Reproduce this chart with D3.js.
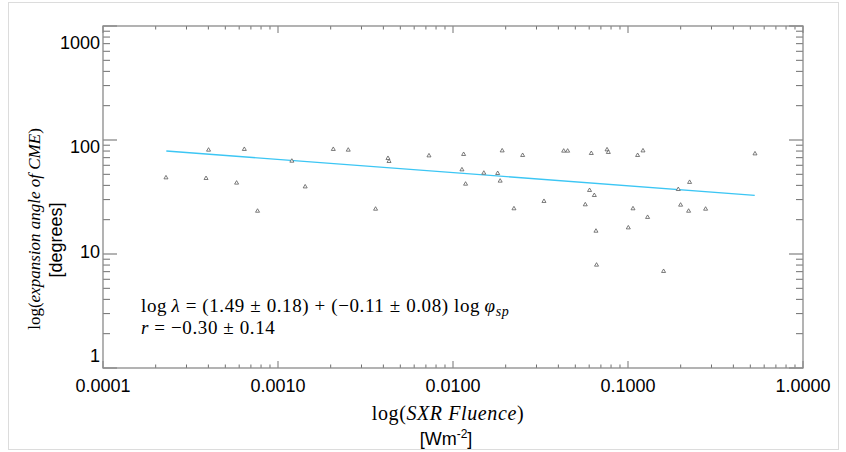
<!DOCTYPE html>
<html>
<head>
<meta charset="utf-8">
<title>Expansion angle vs SXR fluence</title>
<script src="https://cdn.jsdelivr.net/npm/d3@7"></script>
<style>
  body { margin: 0; background: #fff; }
  .tick-label { font: 18px "Liberation Sans", Arial, sans-serif; fill: #000; }
  .math { font-family: "Liberation Serif", "DejaVu Serif", serif; fill: #000; }
  .unit { font: 18px "Liberation Sans", Arial, sans-serif; fill: #000; }
</style>
</head>
<body>
<svg id="chart" width="846" height="452"></svg>
<script>
// SXR fluence [W m^-2] and CME expansion angle [deg]
var fluence = [2.29e-4, 3.88e-4, 4.01e-4, 5.80e-4, 6.42e-4, 7.64e-4, 1.20e-3, 1.43e-3, 2.07e-3, 2.52e-3,
               3.61e-3, 4.25e-3, 4.31e-3, 7.29e-3, 0.0115, 0.01125, 0.0118, 0.0150, 0.0180, 0.0186,
               0.0191, 0.0223, 0.0250, 0.0331, 0.0429, 0.0452, 0.0570, 0.0603, 0.0617, 0.0642,
               0.0656, 0.0661, 0.0759, 0.0772, 0.1004, 0.1068, 0.1135, 0.1218, 0.1294, 0.1597,
               0.1938, 0.1998, 0.2220, 0.2249, 0.2776, 0.5317];
var angle = [46.7, 46.1, 81.7, 42.0, 82.9, 23.8, 65.4, 38.9, 82.9, 81.7,
             24.8, 69.1, 65.0, 72.8, 74.9, 54.9, 41.1, 51.3, 51.0, 43.7,
             80.5, 25.0, 73.4, 29.0, 80.1, 80.1, 27.1, 36.2, 76.4, 32.7,
             15.9, 8.01, 82.2, 78.0, 17.0, 25.0, 73.4, 80.5, 21.0, 7.05,
             36.9, 26.9, 23.8, 42.6, 24.8, 75.8];

// fitted line end points
var fitFluence = [2.3e-4, 0.53];
var fitAngle = [80.1, 32.7];

var xTicks = [0.0001, 0.001, 0.01, 0.1, 1];
var xTickLabels = ["0.0001", "0.0010", "0.0100", "0.1000", "1.0000"];
var yTicks = [1, 10, 100, 1000];
var yTickLabels = ["1", "10", "100", "1000"];

var W = 846, H = 452;
var plot = { left: 103, right: 803, top: 26, bottom: 368 };

var svg = d3.select("#chart");

// light outer border of the figure
svg.append("rect")
    .attr("x", 8.5).attr("y", 2.5)
    .attr("width", W - 16).attr("height", H - 5)
    .attr("fill", "none")
    .attr("stroke", "#dcdcdc");

var x = d3.scaleLog().domain([1e-4, 1]).range([plot.left, plot.right]);
var y = d3.scaleLog().domain([1, 1000]).range([plot.bottom, plot.top]);
// tick labels sit a bit inside the frame at the ends
var yLab = d3.scaleLog().domain([1, 1000]).range([plot.bottom - 6, plot.top + 23]);

// minor ticks 2..9 in every decade
function minors(lo, hi) {
  var out = [];
  for (var e = lo; e < hi; e++)
    for (var k = 2; k <= 9; k++) out.push(k * Math.pow(10, e));
  return out;
}
var xMinor = minors(-4, 0);
var yMinor = minors(0, 3);

var g = svg.append("g");

// x ticks, bottom and top
[plot.bottom, plot.top].forEach(function(edge, j) {
  var dir = j === 0 ? -1 : 1;
  g.selectAll(null).data(xMinor).enter().append("line")
      .attr("x1", d => x(d)).attr("x2", d => x(d))
      .attr("y1", edge).attr("y2", edge + dir * 3.5)
      .attr("stroke", "#6f6f6f").attr("stroke-width", 1);
  g.selectAll(null).data(xTicks).enter().append("line")
      .attr("x1", d => x(d)).attr("x2", d => x(d))
      .attr("y1", edge).attr("y2", edge + dir * 7)
      .attr("stroke", "#a8a8a8").attr("stroke-width", 1.6);
});

// y ticks, left and right
[plot.left, plot.right].forEach(function(edge, j) {
  var dir = j === 0 ? 1 : -1;
  g.selectAll(null).data(yMinor).enter().append("line")
      .attr("y1", d => y(d)).attr("y2", d => y(d))
      .attr("x1", edge).attr("x2", edge + dir * 7)
      .attr("stroke", "#6f6f6f").attr("stroke-width", 1);
  g.selectAll(null).data(yTicks).enter().append("line")
      .attr("y1", d => y(d)).attr("y2", d => y(d))
      .attr("x1", edge).attr("x2", edge + dir * 14)
      .attr("stroke", "#a0a0a0").attr("stroke-width", 1.6);
});

// frame
g.append("rect")
    .attr("x", plot.left).attr("y", plot.top)
    .attr("width", plot.right - plot.left).attr("height", plot.bottom - plot.top)
    .attr("fill", "none")
    .attr("stroke", "#8a8a8a").attr("stroke-width", 1.3);

// tick labels
g.selectAll(".xl").data(xTicks).enter().append("text")
    .attr("class", "tick-label")
    .attr("x", d => x(d)).attr("y", plot.bottom + 24)
    .attr("text-anchor", "middle")
    .text((d, i) => xTickLabels[i]);

g.selectAll(".yl").data(yTicks).enter().append("text")
    .attr("class", "tick-label")
    .attr("x", plot.left - 3).attr("y", d => yLab(d))
    .attr("text-anchor", "end")
    .text((d, i) => yTickLabels[i]);

// fit line
g.append("line")
    .attr("x1", x(fitFluence[0])).attr("y1", y(fitAngle[0]))
    .attr("x2", x(fitFluence[1])).attr("y2", y(fitAngle[1]))
    .attr("stroke", "#3cc6f4").attr("stroke-width", 1.3);

// data points
var tri = d3.symbol().type(d3.symbolTriangle).size(7);
g.selectAll(".pt").data(fluence).enter().append("path")
    .attr("class", "pt")
    .attr("d", tri)
    .attr("transform", (d, i) => "translate(" + x(d) + "," + y(angle[i]) + ")")
    .attr("fill", "#fff")
    .attr("stroke", "#5a5a5a")
    .attr("stroke-width", 0.8);

// regression annotation
var ann = g.append("text").attr("class", "math")
    .style("font-size", "19px").style("letter-spacing", "0.6px")
    .attr("x", plot.left + 38).attr("y", plot.bottom - 56);
ann.append("tspan").text("log\u2009");
ann.append("tspan").style("font-style", "italic").text("\u03bb");
ann.append("tspan").text(" = (1.49 \u00b1 0.18) + (\u22120.11 \u00b1 0.08) log\u2009");
ann.append("tspan").style("font-style", "italic").text("\u03c6");
ann.append("tspan").style("font-style", "italic").style("font-size", "14px").attr("dy", 4).text("sp");

var ann2 = g.append("text").attr("class", "math")
    .style("font-size", "19px").style("letter-spacing", "0.6px")
    .attr("x", plot.left + 38).attr("y", plot.bottom - 34);
ann2.append("tspan").style("font-style", "italic").text("r");
ann2.append("tspan").text(" = \u22120.30 \u00b1 0.14");

// x axis title
var xt = svg.append("text").attr("class", "math")
    .style("font-size", "20px").style("letter-spacing", "0.6px")
    .attr("x", (plot.left + plot.right) / 2 - 5).attr("y", plot.bottom + 52)
    .attr("text-anchor", "middle");
xt.append("tspan").text("log(");
xt.append("tspan").style("font-style", "italic").text("SXR Fluence");
xt.append("tspan").text(")");

var xu = svg.append("text").attr("class", "unit")
    .attr("x", (plot.left + plot.right) / 2 - 7).attr("y", plot.bottom + 77)
    .attr("text-anchor", "middle");
xu.append("tspan").text("[Wm");
xu.append("tspan").attr("dy", -7).style("font-size", "12px").text("-2");
xu.append("tspan").attr("dy", 7).text("]");

// y axis title (two rotated lines)
var yt = svg.append("text").attr("class", "math").style("font-size", "17px")
    .attr("transform", "translate(40," + ((plot.top + plot.bottom) / 2 + 32) + ") rotate(-90)")
    .attr("text-anchor", "middle");
yt.append("tspan").text("log(");
yt.append("tspan").style("font-style", "italic").text("expansion angle of CME");
yt.append("tspan").text(")");

svg.append("text").attr("class", "unit")
    .attr("transform", "translate(62," + ((plot.top + plot.bottom) / 2 + 43) + ") rotate(-90)")
    .attr("text-anchor", "middle")
    .text("[degrees]");
</script>
</body>
</html>
